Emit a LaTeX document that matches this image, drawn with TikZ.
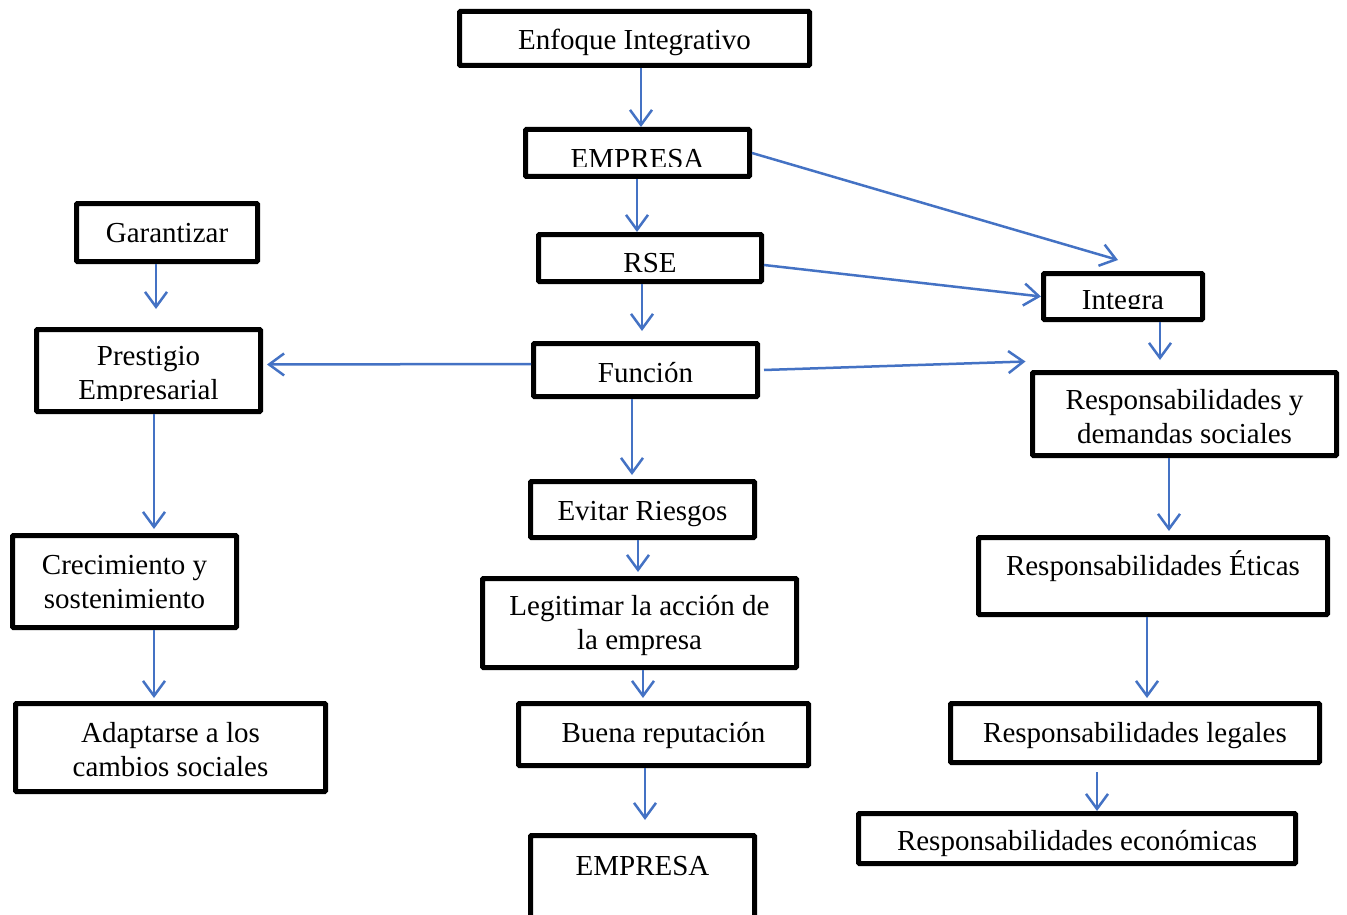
\documentclass[tikz,border=0pt]{standalone}
\usepackage{fontspec}
\setmainfont{Liberation Serif}
\usetikzlibrary{arrows.meta,calc}
\definecolor{arrblue}{RGB}{68,114,196}
\begin{document}
\begin{tikzpicture}[x=1pt,y=-1pt,
  box/.style={draw=black,line width=5pt,fill=white,inner sep=0pt,rounded corners=1pt},
  txt/.style={font=\fontsize{29}{34}\selectfont,inner sep=0pt,anchor=base,align=center},
  arr/.style={draw=arrblue,line width=2.5pt,-{Straight Barb[length=15pt,width=22pt,line width=2.5pt]}}]
\clip (0,0) rectangle (1347,915);
\fill[white] (0,0) rectangle (1347,915);
% boxes
\node[box,minimum width=350pt,minimum height=54pt] (enf) at (634.5,38.5) {};
\node[box,minimum width=224pt,minimum height=47pt] (emp1) at (637.5,153) {};
\node[box,minimum width=223pt,minimum height=47pt] (rse) at (650,258) {};
\node[box,minimum width=159pt,minimum height=46pt] (integ) at (1123,296.5) {};
\node[box,minimum width=181pt,minimum height=58pt] (gar) at (167,232.5) {};
\node[box,minimum width=224pt,minimum height=82pt] (pres) at (148.5,370.5) {};
\node[box,minimum width=224pt,minimum height=53pt] (fun) at (645.5,370) {};
\node[box,minimum width=304pt,minimum height=83pt] (rdem) at (1184.5,414) {};
\node[box,minimum width=224pt,minimum height=56pt] (evi) at (642.5,509.5) {};
\node[box,minimum width=314pt,minimum height=89pt] (leg) at (639.5,623) {};
\node[box,minimum width=290pt,minimum height=62pt] (bue) at (663.5,734.5) {};
\node[box,minimum width=224pt,minimum height=92pt] (emp2) at (642.5,881.5) {};
\node[box,minimum width=224pt,minimum height=92pt] (cre) at (124.5,581.5) {};
\node[box,minimum width=310pt,minimum height=88pt] (ada) at (170.5,747.5) {};
\node[box,minimum width=349pt,minimum height=77pt] (eti) at (1153,576) {};
\node[box,minimum width=369pt,minimum height=59pt] (lga) at (1135,733) {};
\node[box,minimum width=437pt,minimum height=50pt] (eco) at (1077,838.5) {};
% texts (clipped ones as in the reference)
\begin{scope}
\clip (500,120) rectangle (780,166.5);
\node[txt] (temp1) at (637.5,168) {EMPRESA};
\end{scope}
\begin{scope}
\clip (1030,260) rectangle (1210,308.5);
\node[txt] (tinteg) at (1123,309.5) {Integra};
\end{scope}
\begin{scope}
\clip (20,320) rectangle (280,400.5);
\node[txt] (tpres) at (148.5,399) {Prestigio\\Empresarial};
\end{scope}
\node[txt] (tenf) at (634.5,49.5) {Enfoque Integrativo};
\node[txt] (trse) at (650,272) {RSE};
\node[txt] (tgar) at (167,242) {Garantizar};
\node[txt] (tfun) at (645.5,382) {Función};
\node[txt] (trdem) at (1184.5,443) {Responsabilidades y\\demandas sociales};
\node[txt] (tevi) at (642.5,520) {Evitar Riesgos};
\node[txt] (tleg) at (639.5,649) {Legitimar la acción de\\la empresa};
\node[txt] (tbue) at (663.5,742) {Buena reputación};
\node[txt] (temp2) at (642.5,875) {EMPRESA};
\node[txt] (tcre) at (124.5,608) {Crecimiento y\\sostenimiento};
\node[txt] (tada) at (170.5,776) {Adaptarse a los\\cambios sociales};
\node[txt] (teti) at (1153,575) {Responsabilidades Éticas};
\node[txt] (tlga) at (1135,742) {Responsabilidades legales};
\node[txt] (teco) at (1077,850) {Responsabilidades económicas};
% connectors
\draw[arr] (enf.south -| 641,0) -- (emp1.north -| 641,0);
\draw[arr] (emp1.south -| 637,0) -- (rse.north -| 637,0);
\draw[arr] (emp1.east) -- ($(integ.north)+(-5,-11)$);
\draw[arr] ($(rse.east)+(0,7)$) -- (integ.west);
\draw[arr,shorten >=10pt] (rse.south -| 642,0) -- (fun.north -| 642,0);
\draw[arr] ($(fun.west)+(0,-6)$) -- ($(pres.east)+(4,-6)$);
\draw[arr] ($(fun.east)+(4,0)$) -- ($(rdem.north west)+(-4.5,-8.5)$);
\draw[arr,shorten >=10pt] (integ.south -| 1160,0) -- (rdem.north -| 1160,0);
\draw[arr,shorten >=18pt] (gar.south -| 156,0) -- (pres.north -| 156,0);
\draw[arr,shorten >=4pt] (pres.south -| 154,0) -- (cre.north -| 154,0);
\draw[arr,shorten >=3pt] (cre.south -| 154,0) -- (ada.north -| 154,0);
\draw[arr,shorten >=4pt] (fun.south -| 632,0) -- (evi.north -| 632,0);
\draw[arr,shorten >=4pt] (evi.south -| 638,0) -- (leg.north -| 638,0);
\draw[arr,shorten >=3pt] (leg.south -| 643,0) -- (bue.north -| 643,0);
\draw[arr,shorten >=13pt] (bue.south -| 645,0) -- (emp2.north -| 645,0);
\draw[arr,shorten >=4pt] (rdem.south -| 1169,0) -- (eti.north -| 1169,0);
\draw[arr,shorten >=3pt] (eti.south -| 1147,0) -- (lga.north -| 1147,0);
\draw[arr,shorten <=7pt] (lga.south -| 1097,0) -- (eco.north -| 1097,0);
\end{tikzpicture}
\end{document}
